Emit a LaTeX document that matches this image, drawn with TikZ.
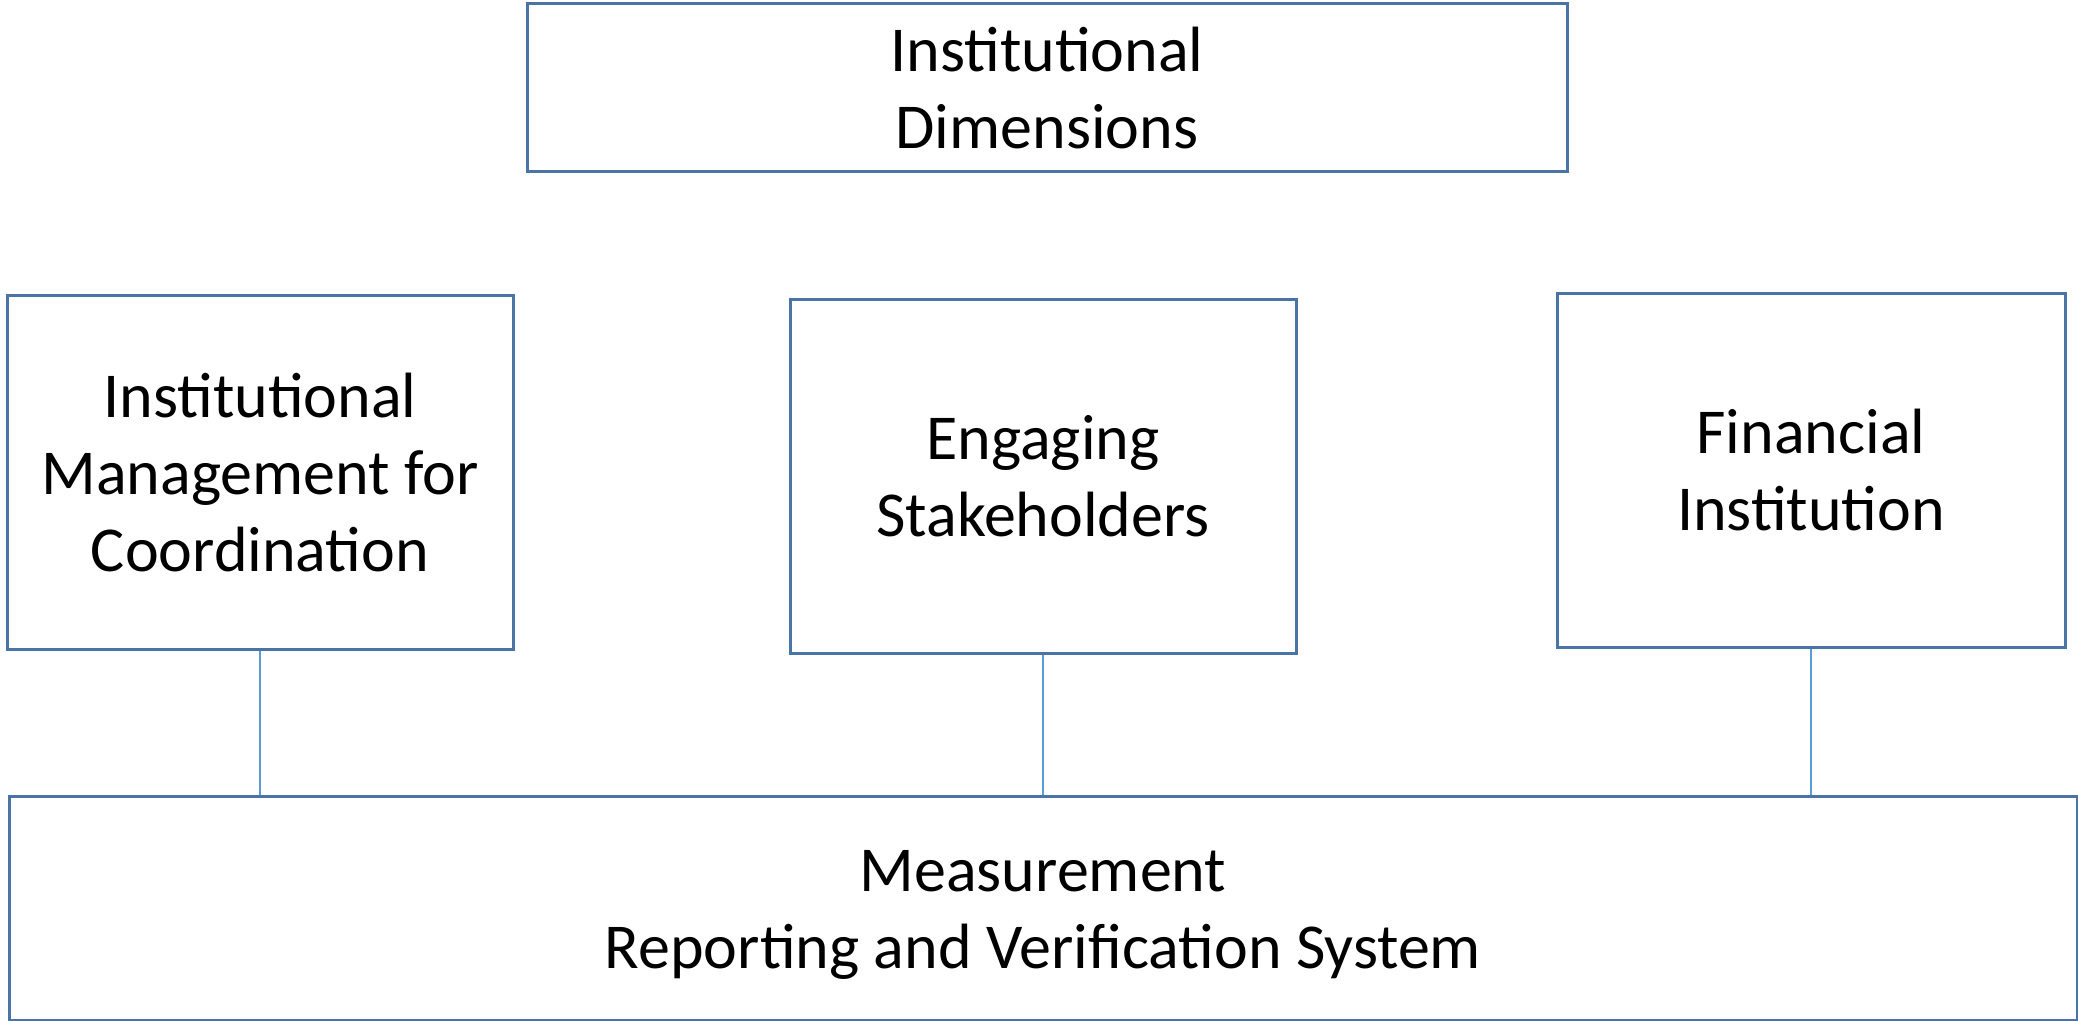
\documentclass[tikz,border=0pt]{standalone}
\usepackage{fontspec}
\setmainfont{Carlito}
\definecolor{boxline}{HTML}{4A74A6}
\definecolor{conline}{HTML}{5B9BD5}
\begin{document}
\begin{tikzpicture}[x=0.5pt,y=-0.5pt,
  box/.style={draw=boxline,line width=1.5pt,fill=white,align=center,inner sep=0pt,
    font=\fontsize{32}{38.5}\selectfont},
  con/.style={draw=conline,line width=0.8pt}]
\useasboundingbox (0,0) rectangle (2078,1021);
\node[box,minimum width=520pt,minimum height=84pt] (top) at (1047,88) {Institutional\\Dimensions};
\node[box,minimum width=253pt,minimum height=176.5pt] (left) at (260,472.5) {Institutional\\Management for\\Coordination};
\node[box,minimum width=253pt,minimum height=176.5pt] (mid) at (1043,476.5) {Engaging\\Stakeholders};
\node[box,minimum width=254pt,minimum height=176.5pt] (right) at (1811,470.5) {Financial\\Institution};
\node[box,minimum width=1034pt,minimum height=112pt] (bot) at (1043,908) {\rule{0pt}{27pt}Measurement\\Reporting and Verification System};
\draw[con] (left.south) -- (left.south |- bot.north);
\draw[con] (mid.south) -- (mid.south |- bot.north);
\draw[con] (right.south) -- (right.south |- bot.north);
\end{tikzpicture}
\end{document}
